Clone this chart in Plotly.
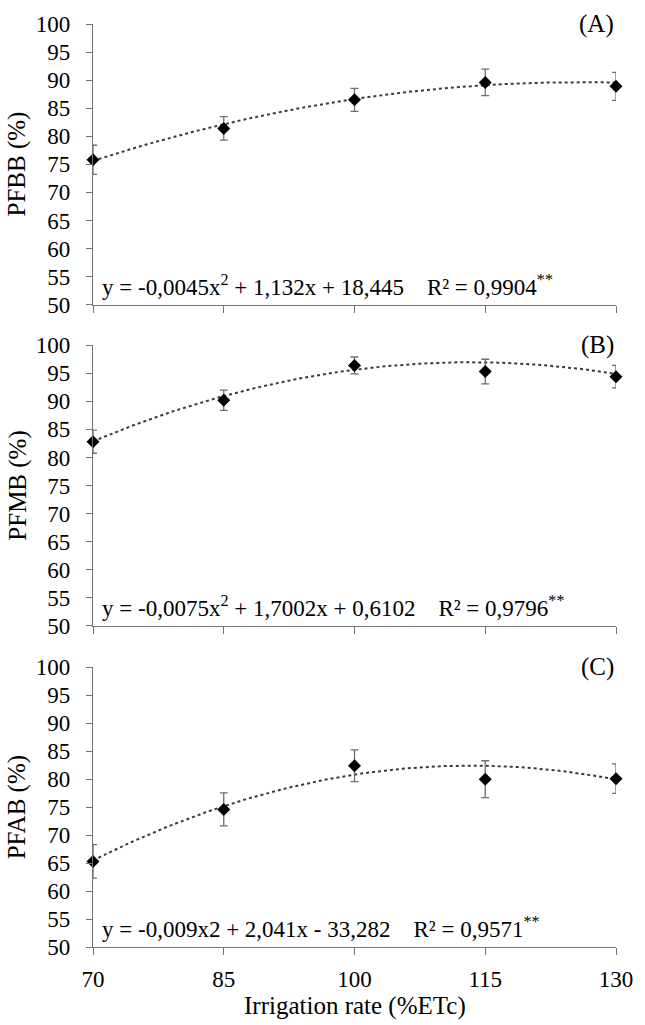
import numpy as np
import plotly.graph_objects as go

# ---- data ----
irrigation = [70, 85, 100, 115, 130]
pfbb = [75.8, 81.4, 86.5, 89.6, 88.9]
pfbb_err = [2.6, 2.1, 2.05, 2.35, 2.5]
pfmb = [82.8, 90.2, 96.4, 95.3, 94.4]
pfmb_err = [2.05, 1.8, 1.5, 2.2, 2.0]
pfab = [65.3, 74.6, 82.4, 80.0, 80.1]
pfab_err = [3.0, 2.95, 2.85, 3.3, 2.65]

# quadratic trend coefficients (a, b, c) from the printed equations
coef_a = [-0.0045, 1.132, 18.445]
coef_b = [-0.0075, 1.7002, 0.6102]
coef_c = [-0.009, 2.041, -33.282]

eq_a = "y = -0,0045x<sup>2</sup> + 1,132x + 18,445&nbsp;&nbsp;&nbsp; R² = 0,9904<sup>**</sup>"
eq_b = "y = -0,0075x<sup>2</sup> + 1,7002x + 0,6102&nbsp;&nbsp;&nbsp; R² = 0,9796<sup>**</sup>"
eq_c = "y = -0,009x2 + 2,041x - 33,282&nbsp;&nbsp;&nbsp; R² = 0,9571<sup>**</sup>"

ytitles = ["PFBB (%)", "PFMB (%)", "PFAB (%)"]
panel_labels = ["(A)", "(B)", "(C)"]
yticks = [50, 55, 60, 65, 70, 75, 80, 85, 90, 95, 100]

FONT = "Liberation Serif"
GRAY = "#737373"

fig = go.Figure()

series = [(pfbb, pfbb_err, coef_a, eq_a), (pfmb, pfmb_err, coef_b, eq_b), (pfab, pfab_err, coef_c, eq_c)]
domains = {1: [0.6959, 1.0], 2: [0.3480, 0.6520], 3: [0.0, 0.3030]}

xs = np.linspace(irrigation[0], irrigation[-1], 121)
for i, (vals, errs, coef, eq) in enumerate(series, start=1):
    xa = "x" if i == 1 else f"x{i}"
    ya = "y" if i == 1 else f"y{i}"
    trend = np.polyval(coef, xs)
    fig.add_trace(go.Scatter(x=xs, y=trend, mode="lines", xaxis=xa, yaxis=ya,
                             line=dict(color="#3a3a3a", width=2, dash="dot"),
                             showlegend=False, hoverinfo="skip"))
    fig.add_trace(go.Scatter(x=irrigation, y=vals, mode="markers", xaxis=xa, yaxis=ya,
                             marker=dict(symbol="diamond", size=10, color="black"),
                             error_y=dict(type="data", array=errs, visible=True,
                                          color="#6e6e6e", thickness=1.3, width=4),
                             cliponaxis=False, showlegend=False))
    fig.add_annotation(x=70.8, y=53.5, xref=xa, yref=ya, text=eq, showarrow=False,
                       xanchor="left", yanchor="middle",
                       font=dict(family=FONT, size=23, color="black"))
    fig.add_annotation(x=130, y=100, xref=xa, yref=ya, text=panel_labels[i - 1], showarrow=False,
                       xanchor="right", yanchor="middle",
                       font=dict(family=FONT, size=25, color="black"))
    dom = domains[i]
    fig.add_annotation(x=-0.145, y=(dom[0] + dom[1]) / 2, xref="paper", yref="paper",
                       text=ytitles[i - 1], showarrow=False, textangle=-90,
                       xanchor="center", yanchor="middle",
                       font=dict(family=FONT, size=25, color="black"))

    xkey = "xaxis" if i == 1 else f"xaxis{i}"
    ykey = "yaxis" if i == 1 else f"yaxis{i}"
    fig.update_layout({
        xkey: dict(domain=[0, 1], anchor=ya, range=[70, 130], tickvals=irrigation,
                   showticklabels=(i == 3), ticks="outside", ticklen=7, tickcolor=GRAY,
                   showline=True, linecolor=GRAY, linewidth=1.3, showgrid=False,
                   zeroline=False, ticklabelstandoff=4,
                   tickfont=dict(family=FONT, size=23, color="black")),
        ykey: dict(domain=dom, anchor=xa, range=[50, 100], tickvals=yticks,
                   ticks="outside", ticklen=6, tickcolor=GRAY,
                   showline=True, linecolor=GRAY, linewidth=1.3, showgrid=False,
                   zeroline=False, ticklabelstandoff=11,
                   tickfont=dict(family=FONT, size=23, color="black")),
    })

fig.add_annotation(x=0.5, y=-0.0642, xref="paper", yref="paper", text="Irrigation rate (%ETc)",
                   showarrow=False, xanchor="center", yanchor="middle",
                   font=dict(family=FONT, size=25, color="black"))

fig.update_layout(width=645, height=1025, margin=dict(l=93, r=20, t=13, b=78),
                  paper_bgcolor="white", plot_bgcolor="white", showlegend=False)

fig.write_html("out.html")
